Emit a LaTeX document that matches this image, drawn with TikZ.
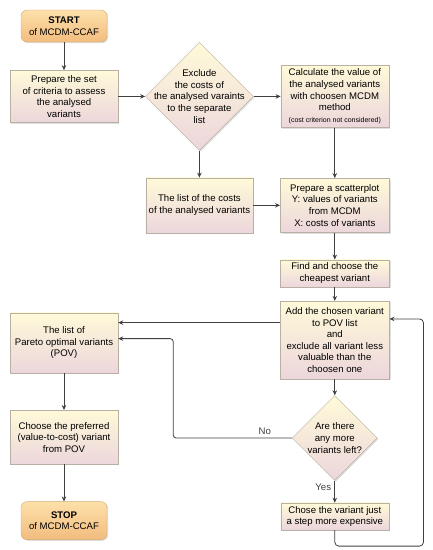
\documentclass[tikz,border=0pt]{standalone}
\usepackage{fontspec}
\setmainfont{Liberation Sans}
\usetikzlibrary{positioning,arrows.meta,shapes.geometric,shadows}
\definecolor{BoxTop}{RGB}{255,250,216}
\definecolor{BoxBottom}{RGB}{236,214,220}
\definecolor{TermTop}{RGB}{253,224,170}
\definecolor{TermBottom}{RGB}{242,188,126}
\definecolor{TermEdge}{RGB}{214,168,112}
\definecolor{EdgeGray}{RGB}{184,176,162}
\definecolor{FlowGray}{RGB}{64,64,64}

\begin{document}
\begin{tikzpicture}[node distance=27pt, every node/.style={font=\fontsize{9.6}{11.6}\selectfont, align=center},
  soft/.style={drop shadow={opacity=0.25, shadow xshift=1.2pt, shadow yshift=-1.2pt}},
  stepbox/.style={draw=EdgeGray, top color=BoxTop, bottom color=BoxBottom, minimum width=108pt, inner sep=1pt, soft},
  terminal/.style={draw=TermEdge, rounded corners=6pt, top color=TermTop, bottom color=TermBottom, minimum width=86pt, minimum height=32pt, soft},
  decision/.style={diamond, draw=EdgeGray, top color=BoxTop, bottom color=BoxBottom, minimum size=108pt, inner sep=0pt, soft},
  flow/.style={-{Stealth[length=5pt,width=4.5pt]}, FlowGray, line width=0.8pt}]
  \useasboundingbox (0,0) rectangle (432pt,-550pt);
  \node[terminal] (start) at (64pt,-26pt) {\textbf{START}\\of MCDM-CCAF};
  \node[stepbox, below=28pt of start, minimum height=52pt] (prep) {Prepare the set\\of criteria to assess\\the analysed\\variants};
  \node[decision, right=of prep, label={center:{Exclude\\the costs of\\the analysed varaints\\to the separate\\list}}] (exclude) {};
  \node[stepbox, right=of exclude, minimum height=62pt] (calc) {Calculate the value of\\the analysed variants\\with choosen MCDM\\method\\{\fontsize{7}{8.5}\selectfont (cost criterion not considered)}};
  \node[stepbox, below=of exclude, minimum height=55pt, minimum width=107pt] (costs) {The list of the costs\\of the analysed variants};
  \node[stepbox, right=of costs, minimum height=54pt, minimum width=109pt] (scatter) {Prepare a scatterplot\\Y: values of variants\\from MCDM\\X: costs of variants};
  \node[stepbox, below=of scatter, minimum height=27pt, minimum width=109pt] (cheapest) {Find and choose the\\cheapest variant};
  \node[stepbox, below=14pt of cheapest, minimum height=78pt, minimum width=109pt] (add) {Add the chosen variant\\to POV list\\and\\exclude all variant less\\valuable than the\\choosen one};
  \node[decision, below=16pt of add, minimum size=85pt, label={center:{Are there\\any more\\variants left?}}] (left) {};
  \node[stepbox, below=22pt of left, minimum height=27pt] (next) {Chose the variant just\\a step more expensive};
  \node[stepbox, below=190pt of prep, minimum height=60pt] (pov) {The list of\\Pareto optimal variants\\(POV)};
  \node[stepbox, below=37pt of pov, minimum height=54pt] (prefer) {Choose the preferred\\(value-to-cost) variant\\from POV};
  \node[terminal, below=37pt of prefer, minimum height=38pt] (stop) {\textbf{STOP}\\of MCDM-CCAF};
  \coordinate (povin) at ([yshift=-10pt]pov.north east);
  \coordinate (povno) at ([yshift=-26pt]pov.north east);
  \coordinate (addin) at ([yshift=-18pt]add.north east);
  \coordinate (loop) at ([xshift=34pt]addin);
  \draw[flow] (start) -- (prep);
  \draw[flow] (prep) -- (exclude);
  \draw[flow] (exclude) -- (calc);
  \draw[flow] (exclude) -- (costs);
  \draw[flow] (calc) -- (scatter);
  \draw[flow] (costs) -- (scatter);
  \draw[flow] (scatter) -- (cheapest);
  \draw[flow] (cheapest) -- (add);
  \draw[flow] (add) -- (left);
  \draw[flow] (add.west |- povin) -- (povin);
  \draw[flow, rounded corners=3pt] (left.west) -- node[above, pos=0.23] {No} ([xshift=55pt]povno |- left.west) -- ([xshift=55pt]povno) -- (povno);
  \draw[flow] (left) -- node[left, pos=0.3] {Yes} (next);
  \draw[flow, rounded corners=4pt] (next.south) -- ++(0,-16pt) -| (loop) -- (addin);
  \draw[flow] (pov) -- (prefer);
  \draw[flow] (prefer) -- (stop);
\end{tikzpicture}
\end{document}
